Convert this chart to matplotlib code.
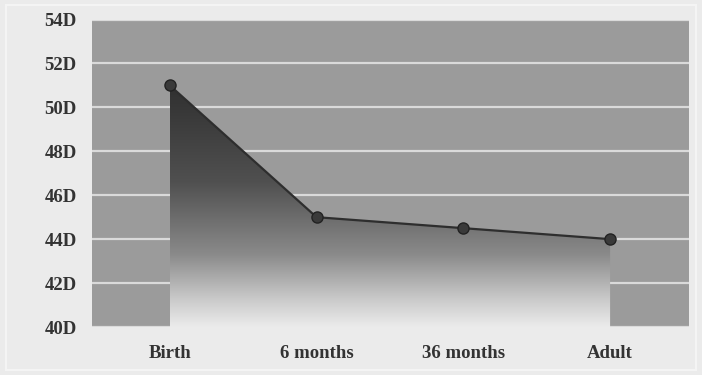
import numpy as np
import matplotlib
matplotlib.use('Agg')
import matplotlib.pyplot as plt
from matplotlib.colors import LinearSegmentedColormap
from matplotlib.patches import Rectangle

# data
stages = ['Birth', '6 months', '36 months', 'Adult']
power = [51.0, 45.0, 44.5, 44.0]
yticks = [40, 42, 44, 46, 48, 50, 52, 54]
ytick_labels = ['40D', '42D', '44D', '46D', '48D', '50D', '52D', '54D']

plt.rcParams['font.family'] = ['Liberation Serif', 'DejaVu Serif']

fig = plt.figure(figsize=(7.02, 3.75), dpi=100, facecolor='#ebebeb')
# faint scan frame
fig.patches.append(Rectangle((0.009, 0.013), 0.983, 0.973, transform=fig.transFigure,
                             fill=False, edgecolor='#f4f4f4', linewidth=1.5))

ax = fig.add_axes([0.131, 0.128, 0.851, 0.82])
ax.set_facecolor('#9b9b9b')

x = np.arange(len(stages))

ax.set_yticks(yticks)
ax.set_yticklabels(ytick_labels)
ax.set_xticks(x)
ax.set_xticklabels(stages)
ax.grid(axis='y', color='#dadada', linewidth=1.6)
ax.set_axisbelow(True)
ax.tick_params(length=0, labelsize=13.5, colors='#333333')
ax.tick_params(axis='x', pad=13)
ax.tick_params(axis='y', pad=11)
for lab in ax.get_xticklabels() + ax.get_yticklabels():
    lab.set_fontweight('bold')
for s in ax.spines.values():
    s.set_visible(False)

# gradient area under the line
poly = ax.fill_between(x, power, 40, color='none', zorder=2)
cmap = LinearSegmentedColormap.from_list(
    'fade', [(0.0, '#ebebeb'), (0.12, '#c8c8c8'), (0.3, '#8a8a8a'),
             (0.6, '#505050'), (1.0, '#303030')])
grad = np.linspace(0, 1, 256).reshape(-1, 1)
img = ax.imshow(grad, cmap=cmap, aspect='auto', origin='lower',
                extent=[x[0], x[-1], 40, max(power)], zorder=2)
img.set_clip_path(poly.get_paths()[0], transform=ax.transData)
ax.set_xlim(-0.53, 3.54)
ax.set_ylim(40, 54)

ax.plot(x, power, color='#2e2e2e', linewidth=1.6, marker='o',
        markersize=8, markerfacecolor='#3a3a3a', markeredgecolor='#222222',
        zorder=3)

fig.savefig('out.png', dpi=100, facecolor=fig.get_facecolor())
